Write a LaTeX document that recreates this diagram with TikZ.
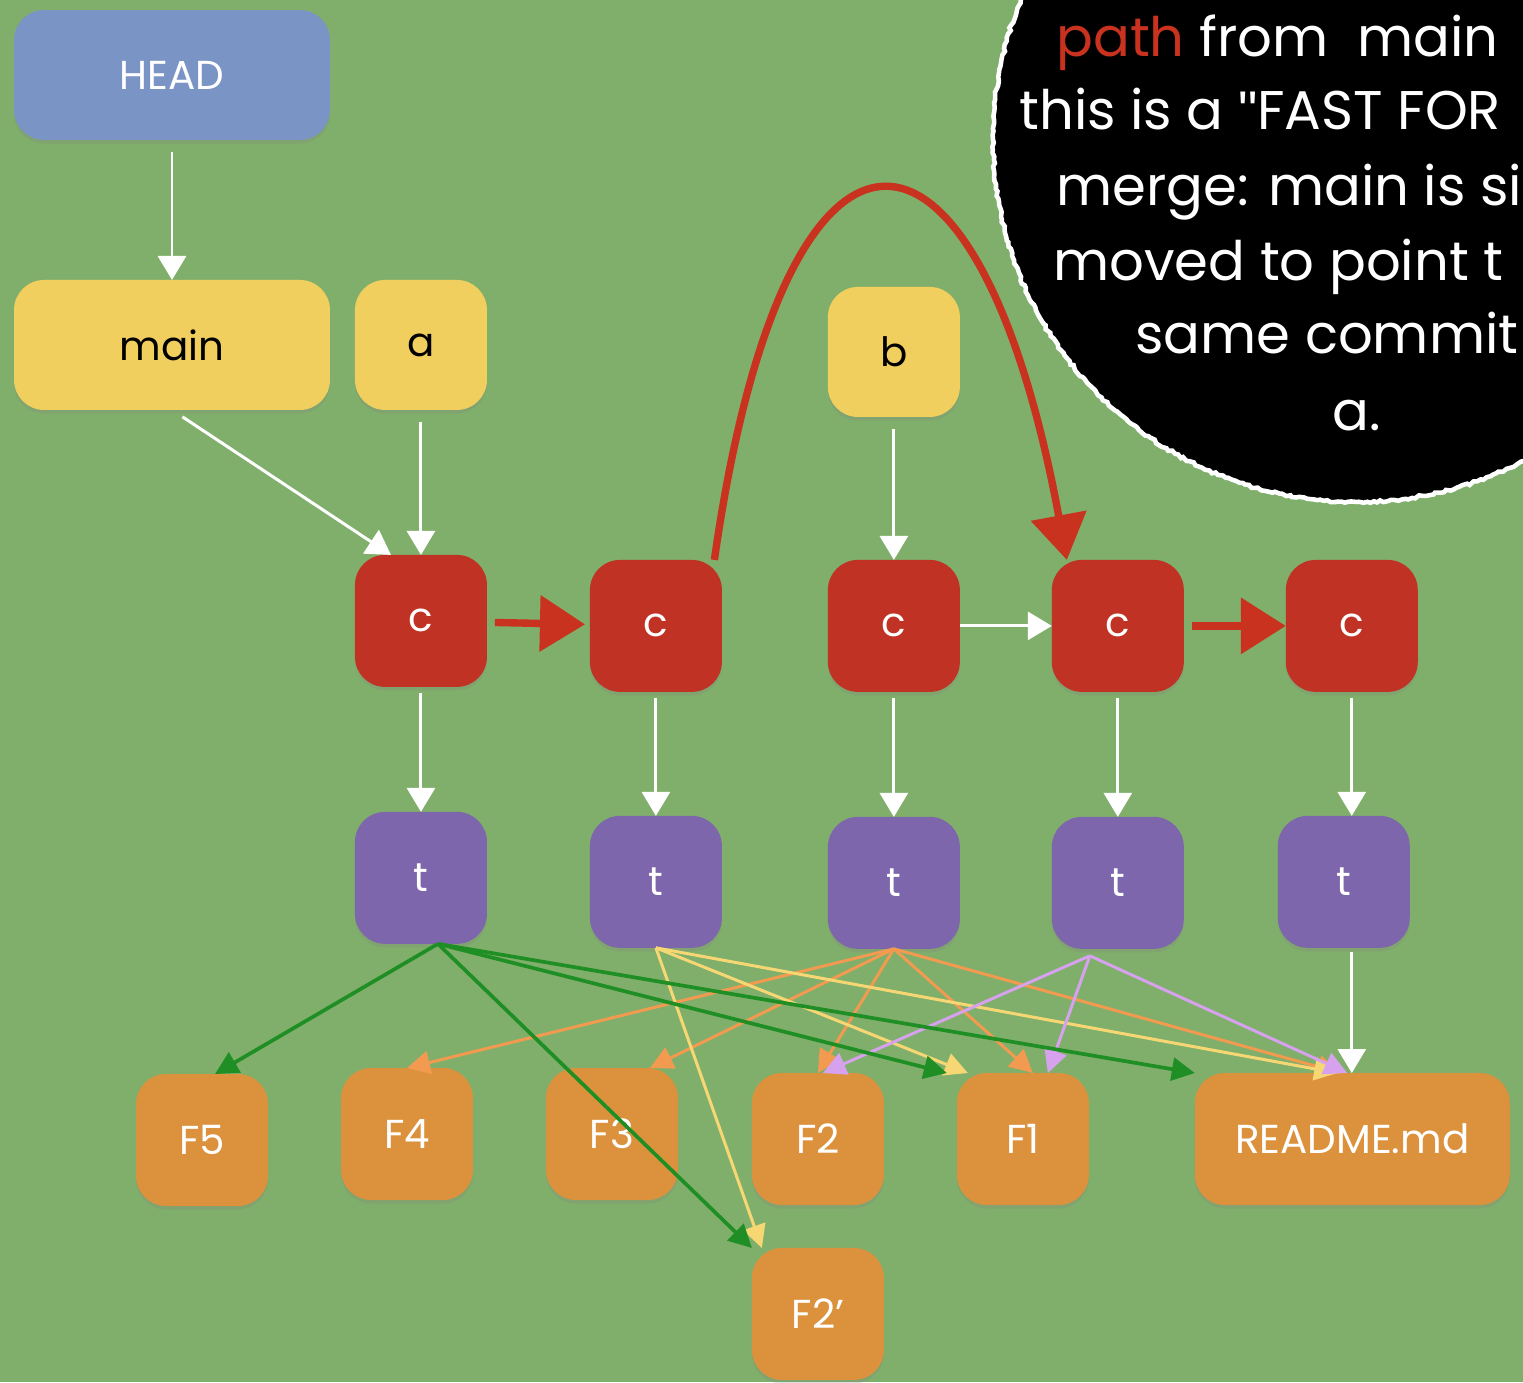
\documentclass[tikz,border=0pt]{standalone}
\usepackage{fontspec}
\setmainfont{Poppins}
\newfontfamily\quotefont{Liberation Sans}
\usepackage{xcolor}
\usepackage{tikz}
\usetikzlibrary{arrows.meta, positioning, shadows, decorations.pathmorphing}
\definecolor{board}{HTML}{80AF6B}
\definecolor{headblue}{HTML}{7A94C6}
\definecolor{branch}{HTML}{F1CF5E}
\definecolor{commitred}{HTML}{C03224}
\definecolor{treepurple}{HTML}{7E66AC}
\definecolor{blobor}{HTML}{DC923D}
\definecolor{chalkred}{HTML}{C8321E}
\definecolor{chalkgreen}{HTML}{1F8E24}
\definecolor{chalkorange}{HTML}{F29B50}
\definecolor{chalkyellow}{HTML}{F7D774}
\definecolor{chalklilac}{HTML}{D6A2EE}
\tikzstyle{tile} = [rectangle, rounded corners=0.6cm, minimum width=2.64cm, minimum height=2.64cm, text centered, inner sep=0pt, outer sep=0pt, font=\fontsize{23}{27}\selectfont, drop shadow={opacity=0.25, shadow xshift=0pt, shadow yshift=-2pt}]
\tikzstyle{ref} = [tile, fill=branch, text=black, minimum height=2.6cm]
\tikzstyle{commit} = [tile, fill=commitred, text=white]
\tikzstyle{tree} = [tile, fill=treepurple, text=white]
\tikzstyle{blob} = [tile, fill=blobor, text=white]
\tikzstyle{notetext} = [text=white, font=\fontsize{31}{36}\selectfont, anchor=base west, inner sep=0pt]
\tikzstyle{arrow} = [line width=1.7pt, white, -{Triangle[width=0.56cm,length=0.48cm]}, shorten <=0.25cm]
\tikzstyle{bigarrow} = [line width=4.2pt, chalkred, -{Triangle[width=1.1cm,length=0.9cm]}]
\tikzstyle{fileflow} = [line width=1.7pt, -{Triangle[width=0.46cm,length=0.46cm]}]

\begin{document}
\begin{tikzpicture}[x=0.02cm, y=-0.02cm, >=Stealth]
    \useasboundingbox (0,0) rectangle (1523,1382);
    \clip (0,0) rectangle (1523,1382);
    \fill [board] (0,0) rectangle (1523,1382);

    % Note on the board
    \draw [white, line width=2.6pt, fill=black, decorate, decoration={random steps, segment length=2pt, amplitude=0.7pt}] (1356,139) circle [radius=7.26cm];
    \node (note1) [notetext] at (1056,57) {\textcolor{chalkred}{path} from\ \ main};
    \node (note2) [notetext] at (1019,130) {this is a {\quotefont\symbol{34}}FAST FOR};
    \node (note3) [notetext] at (1056,205) {merge: main is si};
    \node (note4) [notetext] at (1053,280) {moved to point t};
    \node (note5) [notetext] at (1135,353) {same commit};
    \node (note6) [notetext] at (1332,430) {a.};

    % References
    \node (head) [tile, fill=headblue, text=white, minimum width=6.32cm, minimum height=2.6cm] at (172,75) {HEAD};
    \node (main) [ref, below=2.8cm of head, minimum width=6.32cm] {main};
    \node (a) [ref, right=0.5cm of main] {a};

    % Commits
    \node (c1) [commit, below=2.9cm of a] {c};
    \node (c2) [commit, right=2.06cm of c1, yshift=-0.1cm] {c};
    \node (c3) [commit, right=2.12cm of c2] {c};
    \node (c4) [commit, right=1.84cm of c3] {c};
    \node (c5) [commit, right=2.04cm of c4] {c};
    \node (b) [ref, above=2.86cm of c3] {b};

    % Trees
    \node (t1) [tree, below=2.5cm of c1] {t};
    \node (t2) [tree, below=2.48cm of c2] {t};
    \node (t3) [tree, below=2.5cm of c3] {t};
    \node (t4) [tree, below=2.5cm of c4] {t};
    \node (t5) [tree, below=2.48cm of c5, xshift=-0.16cm] {t};

    % Blobs
    \node (f5) [blob] at (202,1140) {F5};
    \node (f4) [blob, right=1.46cm of f5, yshift=0.12cm] {F4};
    \node (f3) [blob, right=1.46cm of f4] {F3};
    \node (f2) [blob, right=1.48cm of f3, yshift=-0.1cm] {F2};
    \node (f1) [blob, right=1.46cm of f2] {F1};
    \node (readme) [blob, right=2.12cm of f1, minimum width=6.3cm] {README.md};
    \node (f2p) [blob, below=0.86cm of f2] {F2'};

    % Reference arrows
    \draw [arrow] (head) -- (main);
    \draw [arrow] (main.south) -- ([xshift=-0.6cm]c1.north);
    \draw [arrow] (a) -- (c1);
    \draw [arrow] (b) -- (c3);

    % History
    \draw [bigarrow, shorten <=0.16cm, shorten >=0.1cm] (c1) -- (c2);
    \draw [bigarrow] ([xshift=-0.15cm]c2.north east) .. controls +(70,-495) and +(-90,-487) .. ([xshift=0.3cm]c4.north west);
    \draw [arrow, shorten <=0pt] (c3) -- (c4);
    \draw [bigarrow, shorten <=0.16cm] (c4) -- (c5);

    % Commit to tree
    \draw [arrow, shorten <=0.12cm] (c1) -- (t1);
    \draw [arrow, shorten <=0.12cm] (c2) -- (t2);
    \draw [arrow, shorten <=0.12cm] (c3) -- (t3);
    \draw [arrow, shorten <=0.12cm] (c4) -- (t4);
    \draw [arrow, shorten <=0.12cm] (c5.south) -- (c5.south |- t5.north);

    % Tree to blobs
    \coordinate (t1out) at ([xshift=0.34cm]t1.south);
    \coordinate (t4out) at ([xshift=-0.56cm, yshift=-0.14cm]t4.south);
    \draw [fileflow, chalkorange] (t3.south) -- (f4.north);
    \draw [fileflow, chalkorange] (t3.south) -- ([xshift=0.76cm]f3.north);
    \draw [fileflow, chalkorange] (t3.south) -- (f2.north);
    \draw [fileflow, chalkorange] (t3.south) -- ([xshift=0.2cm]f1.north);
    \draw [fileflow, chalkorange] (t3.south) -- ([xshift=-0.24cm]readme.north);
    \draw [fileflow, chalkyellow] (t2.south) -- ([xshift=0.2cm]f2p.north west);
    \draw [fileflow, chalkyellow] (t2.south) -- ([xshift=-1.1cm]f1.north);
    \draw [fileflow, chalkyellow] (t2.south) -- ([xshift=-0.3cm]readme.north);
    \draw [fileflow, chalklilac] (t4out) -- ([xshift=0.1cm]f2.north);
    \draw [fileflow, chalklilac] (t4out) -- ([xshift=0.5cm]f1.north);
    \draw [fileflow, chalklilac] (t4out) -- ([xshift=-0.1cm]readme.north);
    \draw [fileflow, chalkgreen, line width=2.1pt] (t1out) -- ([xshift=0.26cm]f5.north);
    \draw [fileflow, chalkgreen, line width=2.1pt] (t1out) -- (f2p.north west);
    \draw [fileflow, chalkgreen, line width=2.1pt] (t1out) -- ([xshift=-0.2cm]f1.north west);
    \draw [fileflow, chalkgreen, line width=2.1pt] (t1out) -- (readme.north west);
    \draw [arrow, shorten <=0.08cm] (c5.south |- t5.south) -- (c5.south |- readme.north);
\end{tikzpicture}
\end{document}
